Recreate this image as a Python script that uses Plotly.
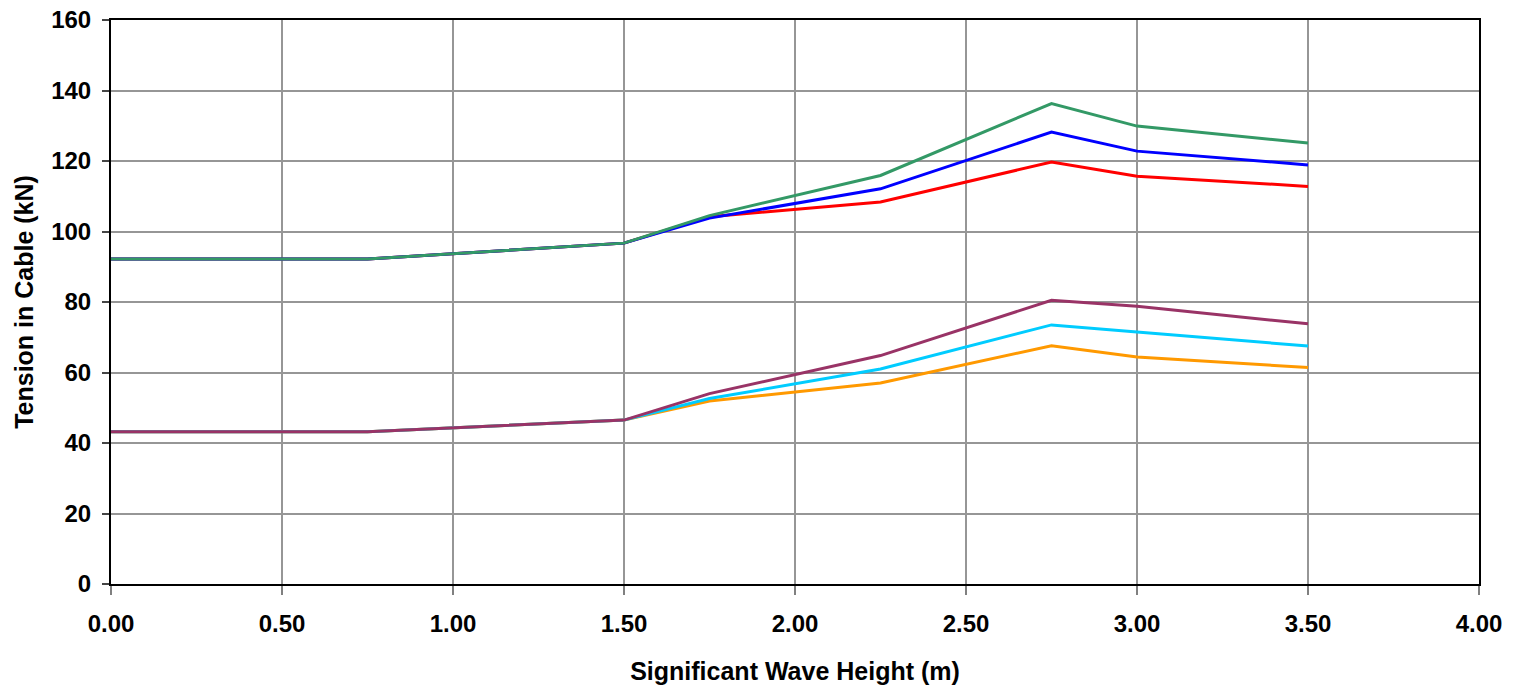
import plotly.graph_objects as go

x = [0.0, 0.75, 1.5, 1.75, 2.25, 2.75, 3.0, 3.5]

red = [92.2, 92.2, 96.7, 104.2, 108.4, 119.7, 115.7, 112.8]
blue = [92.2, 92.2, 96.7, 103.8, 112.1, 128.2, 122.8, 118.9]
green = [92.2, 92.2, 96.7, 104.5, 115.9, 136.3, 129.9, 125.1]
orange = [43.2, 43.2, 46.5, 51.9, 57.0, 67.6, 64.4, 61.4]
cyan = [43.2, 43.2, 46.5, 52.6, 61.0, 73.5, 71.5, 67.5]
purple = [43.2, 43.2, 46.5, 54.0, 64.8, 80.5, 78.8, 73.8]

xticks = [0, 0.5, 1, 1.5, 2, 2.5, 3, 3.5, 4]
yticks = list(range(0, 161, 20))

series = [
    ("red", red, "#FF0000"),
    ("blue", blue, "#0000FF"),
    ("green", green, "#339966"),
    ("orange", orange, "#FF9900"),
    ("cyan", cyan, "#00CCFF"),
    ("purple", purple, "#993366"),
]

fig = go.Figure()
for name, ys, col in series:
    fig.add_trace(go.Scatter(x=x, y=ys, mode="lines", name=name,
                             line=dict(color=col, width=3)))

tick_font = dict(family="Liberation Sans, Arial, sans-serif", size=24, color="black")
title_font = dict(family="Liberation Sans, Arial, sans-serif", size=25, color="black")

fig.update_layout(
    width=1513, height=686,
    margin=dict(l=111, r=34, t=20, b=102),
    paper_bgcolor="white", plot_bgcolor="white",
    showlegend=False,
    font=tick_font,
)
fig.update_xaxes(
    range=[0, 4], tickvals=xticks,
    ticktext=["<b>%.2f</b>" % v for v in xticks],
    tickfont=tick_font, ticklabeloverflow="allow", automargin=False,
    showgrid=True, gridcolor="#969696", gridwidth=1.5,
    showline=True, mirror=True, linecolor="black", linewidth=2,
    ticks="outside", ticklen=9, tickcolor="#808080", tickwidth=1.5,
    ticklabelstandoff=8,
    title=dict(text="<b>Significant Wave Height (m)</b>", font=title_font, standoff=27),
    zeroline=False,
)
fig.update_yaxes(
    range=[0, 160], tickvals=yticks,
    ticktext=["<b>%d</b>" % v for v in yticks],
    tickfont=tick_font, ticklabeloverflow="allow", automargin=False,
    showgrid=True, gridcolor="#969696", gridwidth=1.5,
    showline=True, mirror=True, linecolor="black", linewidth=2,
    ticks="outside", ticklen=7, tickcolor="#444444", tickwidth=1.5,
    ticklabelstandoff=6,
    title=dict(text="<b>Tension in Cable (kN)</b>", font=title_font, standoff=10),
    zeroline=False,
)

fig.write_html("out.html", config={"displayModeBar": False},
               post_script="document.body.style.margin='0';document.body.style.overflow='hidden';")
